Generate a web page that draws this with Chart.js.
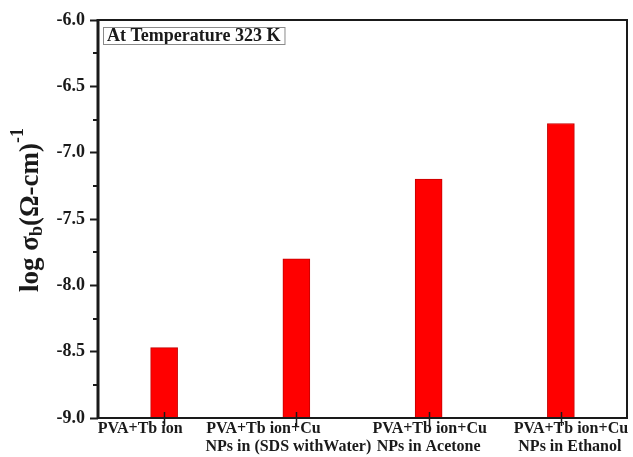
<!DOCTYPE html>
<html>
<head>
<meta charset="utf-8">
<script src="https://cdn.jsdelivr.net/npm/chart.js@4/dist/chart.umd.min.js"></script>
<style>
  html, body { margin: 0; padding: 0; background: #fff; }
  #wrap { width: 633px; height: 457px; }
</style>
</head>
<body>
<div id="wrap"><canvas id="c" width="633" height="457"></canvas></div>
<script>
// Sample categories (two-line labels) and bulk conductivity at 323 K
const categories = [
  ["PVA+Tb ion"],
  ["PVA+Tb ion+Cu", "NPs in (SDS withWater)"],
  ["PVA+Tb ion+Cu", "NPs in Acetone"],
  ["PVA+Tb ion+Cu", "NPs in Ethanol"]
];
const logSigma = [-8.47, -7.80, -7.20, -6.78];
const yTicks = [-9.0, -8.5, -8.0, -7.5, -7.0, -6.5, -6.0];
const boxLabel = "At Temperature 323 K";

const SERIF = '"Liberation Serif", "Times New Roman", serif';
const INK = '#1a1a1a';

// Frame, minor ticks, category ticks, category labels, axis title and note box
const decorations = {
  id: 'decorations',
  afterDatasetsDraw(chart) {
    const { ctx, chartArea: a, scales: { x, y } } = chart;
    ctx.save();
    ctx.strokeStyle = INK;

    // minor ticks halfway between labelled ticks
    ctx.lineWidth = 2;
    for (let i = 0; i < yTicks.length - 1; i++) {
      const py = Math.round(y.getPixelForValue((yTicks[i] + yTicks[i + 1]) / 2));
      ctx.beginPath(); ctx.moveTo(a.left - 5, py); ctx.lineTo(a.left, py); ctx.stroke();
    }

    // category ticks crossing the bottom axis
    categories.forEach((_, i) => {
      const px = Math.round(x.getPixelForTick(i)) + 0.5;
      ctx.lineWidth = 1.5;
      ctx.beginPath(); ctx.moveTo(px, a.bottom - 6); ctx.lineTo(px, a.bottom + 8); ctx.stroke();
    });

    // plot frame
    ctx.lineWidth = 2;
    ctx.strokeRect(a.left, a.top, a.right - a.left, a.bottom - a.top);
    ctx.lineWidth = 3;
    ctx.beginPath(); ctx.moveTo(a.left, a.top - 1); ctx.lineTo(a.left, a.bottom + 1); ctx.stroke();

    // category labels
    const shift = [[-24], [-33, -8], [1, 0], [10, 9]];
    ctx.fillStyle = INK;
    ctx.font = 'bold 16px ' + SERIF;
    ctx.textAlign = 'center';
    ctx.textBaseline = 'middle';
    categories.forEach((lines, i) => {
      const px = x.getPixelForTick(i);
      lines.forEach((t, j) => {
        ctx.fillText(t, px + shift[i][j], a.bottom + 11 + j * 18);
      });
    });

    // note box in the top-left corner
    ctx.font = 'bold 18px ' + SERIF;
    ctx.textAlign = 'left';
    ctx.textBaseline = 'alphabetic';
    const tw = ctx.measureText(boxLabel).width;
    const bx = a.left + 5, by = a.top + 7;
    ctx.fillText(boxLabel, bx + 4, by + 14);
    ctx.strokeStyle = '#8a8a8a';
    ctx.lineWidth = 1;
    ctx.strokeRect(bx + 0.5, by + 0.5, tw + 8, 17);

    // rotated y-axis title: log σ_b (Ω-cm)^-1
    const big = 'bold 27px ' + SERIF, small = 'bold 18px ' + SERIF;
    const parts = [
      { t: 'log σ', f: big, dy: 0 },
      { t: 'b', f: small, dy: 6 },
      { t: '(Ω-cm)', f: big, dy: 0 },
      { t: '-1', f: small, dy: -13 }
    ];
    let total = 0;
    parts.forEach(p => { ctx.font = p.f; p.w = ctx.measureText(p.t).width; total += p.w; });
    ctx.translate(31, 210);
    ctx.rotate(-Math.PI / 2);
    ctx.fillStyle = INK;
    ctx.textBaseline = 'middle';
    let cx = -total / 2;
    parts.forEach(p => { ctx.font = p.f; ctx.fillText(p.t, cx, p.dy); cx += p.w; });

    ctx.restore();
  }
};

new Chart(document.getElementById('c'), {
  type: 'bar',
  data: {
    labels: categories,
    datasets: [{
      data: logSigma,
      base: -9,
      backgroundColor: '#ff0000',
      borderColor: '#c40000',
      borderWidth: 1,
      barThickness: 27
    }]
  },
  options: {
    responsive: false,
    animation: false,
    layout: { padding: { top: 20, right: 6, bottom: 0, left: 0 } },
    plugins: { legend: { display: false }, tooltip: { enabled: false } },
    scales: {
      x: {
        offset: true,
        grid: { display: false },
        border: { display: false },
        ticks: { display: false },
        afterFit(s) { s.height = 39; }
      },
      y: {
        min: -9, max: -6,
        border: { display: false },
        grid: { drawOnChartArea: false, tickLength: 8, tickWidth: 2, tickColor: INK },
        ticks: {
          stepSize: 0.5,
          padding: 5,
          color: INK,
          font: { family: SERIF, size: 18, weight: 'bold' },
          callback: v => v.toFixed(1)
        },
        afterFit(s) { s.width = 98; }
      }
    }
  },
  plugins: [decorations]
});
</script>
</body>
</html>
